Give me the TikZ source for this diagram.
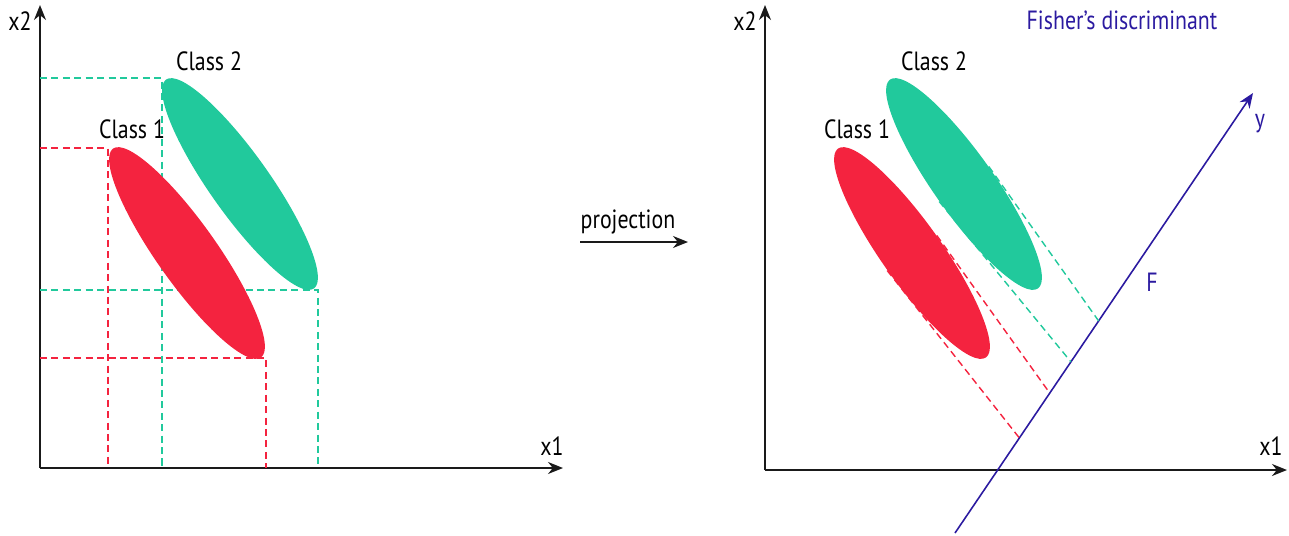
\documentclass[tikz,border=0pt]{standalone}
\usepackage{fontspec}
\setmainfont{PT Sans}
\usetikzlibrary{positioning,arrows.meta,shapes.geometric,calc}
\definecolor{classone}{HTML}{F4233F}
\definecolor{classtwo}{HTML}{21C99C}
\definecolor{fisher}{HTML}{2B1AA0}
\definecolor{axiscol}{HTML}{1A1A1A}

\begin{document}
\begin{tikzpicture}[x=0.02cm, y=-0.02cm,
    axis/.style={-{Stealth[length=3mm, width=2.4mm]}, line width=1pt, axiscol},
    blob/.style={ellipse, inner sep=0pt, minimum width=5.12cm,
      minimum height=1.2cm, rotate=-54.7},
    guide/.style={dash pattern=on 4pt off 2.5pt, line width=0.8pt},
    lbl/.style={font=\fontsize{15}{15}\selectfont, inner sep=0pt, anchor=base,
      xscale=0.83, transform shape},
  ]
  \useasboundingbox (0,0) rectangle (1289,535);

  % left panel
  \coordinate (lo) at (40,468);
  \draw[axis] (lo) -- (40,5) coordinate (ly);
  \draw[axis] (lo) -- (563,468) coordinate (lx);
  \node[lbl] (lx2) at (20,30) {x2};
  \node[lbl] (lx1) at (552,455) {x1};

  \coordinate (g2nw) at (162,78);
  \coordinate (g2se) at (318,290);
  \coordinate (r1nw) at (108,148);
  \coordinate (r1se) at (266,358);
  \draw[guide, classtwo] (lo |- g2nw) -- (g2nw) -- (g2nw |- lo);
  \draw[guide, classtwo] (lo |- g2se) -- (g2se) -- (g2se |- lo);
  \draw[guide, classone] (lo |- r1nw) -- (r1nw) -- (r1nw |- lo);
  \draw[guide, classone] (lo |- r1se) -- (r1se) -- (r1se |- lo);

  \node[blob, fill=classtwo] (g2l) at ($(g2nw)!0.5!(g2se)$) {};
  \node[blob, fill=classone] (r1l) at ($(r1nw)!0.5!(r1se)$) {};
  \node[lbl] (c2l) at (209,70) {Class 2};
  \node[lbl] (c1l) at (132,138) {Class 1};

  % projection arrow
  \coordinate (pa) at (580,242);
  \coordinate (pb) at (688,242);
  \draw[axis] (pa) -- (pb);
  \node[lbl] (proj) at (628,228) {projection};

  % right panel
  \coordinate (ro) at (765,470);
  \draw[axis] (ro) -- (765,5) coordinate (ry);
  \draw[axis] (ro) -- (1287,470) coordinate (rx);
  \node[lbl] (rx2) at (745,30) {x2};
  \node[lbl] (rx1) at (1271,455) {x1};

  \coordinate (fs) at (955,533);
  \coordinate (fe) at (1253,93);
  \draw[-{Stealth[length=3mm, width=2.4mm]}, line width=0.9pt, fisher] (fs) -- (fe);
  \node[lbl, text=fisher] (fy) at (1260,127) {y};
  \node[lbl, text=fisher] (ff) at (1152,291) {F};
  \node[lbl, text=fisher] (title) at (1122,29) {Fisher’s discriminant};

  \node[blob] (g2r) at (964,184) {};
  \node[blob] (r1r) at (912,253) {};
  \draw[guide, classtwo] (g2r.north) -- ($(fs)!0.482!(fe)$);
  \draw[guide, classtwo] (g2r.south) -- ($(fs)!0.389!(fe)$);
  \draw[guide, classone] (r1r.north) -- ($(fs)!0.318!(fe)$);
  \draw[guide, classone] (r1r.south) -- ($(fs)!0.216!(fe)$);
  \fill[classtwo] (g2r.center) ellipse [x radius=2.56cm, y radius=0.6cm, rotate=-54.7];
  \fill[classone] (r1r.center) ellipse [x radius=2.56cm, y radius=0.6cm, rotate=-54.7];
  \node[lbl] (c2r) at (934,70) {Class 2};
  \node[lbl] (c1r) at (857,138) {Class 1};
\end{tikzpicture}
\end{document}
